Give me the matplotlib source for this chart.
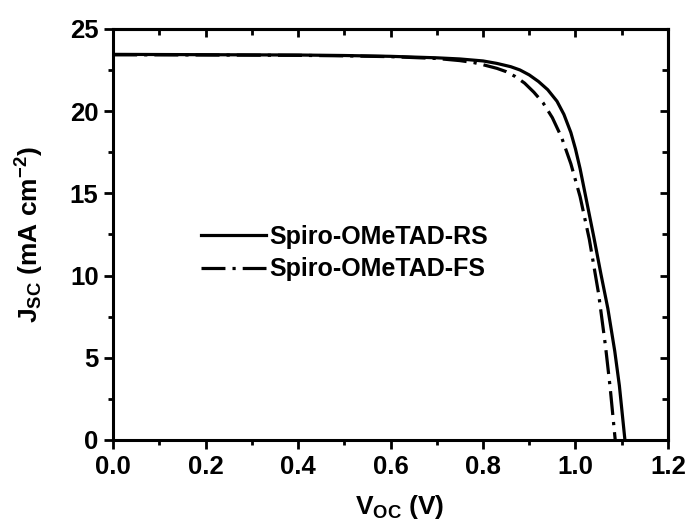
import numpy as np
import matplotlib
matplotlib.use("Agg")
import matplotlib.pyplot as plt
from matplotlib.ticker import MultipleLocator

plt.rcParams['font.family'] = ['Liberation Sans', 'DejaVu Sans']
plt.rcParams['font.weight'] = 'bold'
plt.rcParams['mathtext.fontset'] = 'custom'
plt.rcParams['mathtext.rm'] = 'Liberation Sans:bold'
plt.rcParams['mathtext.bf'] = 'Liberation Sans:bold'
plt.rcParams['mathtext.it'] = 'Liberation Sans:bold'
plt.rcParams['mathtext.default'] = 'bf'

# reverse scan
v_rs = [0.0, 0.1, 0.2, 0.3, 0.4, 0.5, 0.6, 0.7, 0.75, 0.8, 0.83, 0.86, 0.88,
        0.9, 0.92, 0.94, 0.96, 0.975, 0.99, 1.0, 1.01, 1.025, 1.04, 1.055,
        1.07, 1.085, 1.095, 1.107]
j_rs = [23.45, 23.44, 23.43, 23.42, 23.41, 23.38, 23.33, 23.24, 23.17, 23.05,
        22.9, 22.7, 22.5, 22.2, 21.8, 21.3, 20.6, 19.8, 18.7, 17.7, 16.5,
        14.4, 12.3, 10.1, 8.0, 5.4, 3.3, 0.0]

# forward scan
v_fs = [0.0, 0.1, 0.2, 0.3, 0.4, 0.5, 0.6, 0.7, 0.75, 0.78, 0.8, 0.83, 0.85,
        0.87, 0.89, 0.91, 0.93, 0.95, 0.97, 0.99, 1.01, 1.03, 1.05, 1.065,
        1.075, 1.086]
j_fs = [23.42, 23.42, 23.41, 23.4, 23.39, 23.36, 23.31, 23.2, 23.07, 22.95,
        22.82, 22.6, 22.4, 22.1, 21.7, 21.15, 20.5, 19.6, 18.4, 16.8, 14.8,
        12.2, 8.9, 5.7, 3.2, 0.0]

labels = ['Spiro-OMeTAD-RS', 'Spiro-OMeTAD-FS']

fig = plt.figure(figsize=(6.9, 5.25), dpi=100)
ax = fig.add_axes([0.164, 0.162, 0.804, 0.783])

ax.plot(v_rs, j_rs, color='black', lw=2.3, label=labels[0])
ax.plot(v_fs, j_fs, color='black', lw=2.3, linestyle=(0, (7.5, 2.2, 1, 2.2)),
        label=labels[1])

ax.set_xlim(0, 1.2)
ax.set_ylim(0, 25)
ax.xaxis.set_major_locator(MultipleLocator(0.2))
ax.xaxis.set_minor_locator(MultipleLocator(0.1))
ax.yaxis.set_major_locator(MultipleLocator(5))
ax.yaxis.set_minor_locator(MultipleLocator(2.5))

for s in ax.spines.values():
    s.set_linewidth(2.2)

ax.tick_params(which='both', direction='out', width=2, labelsize=18.5,
               top=False, right=False, pad=4)
ax.tick_params(which='major', length=6.5)
ax.tick_params(which='minor', length=3.6)

# inward ticks on top and right, like origin
ax_t = ax.secondary_xaxis('top')
ax_t.set_xticks(np.arange(0, 1.21, 0.2))
ax_t.xaxis.set_minor_locator(MultipleLocator(0.1))
ax_t.tick_params(which='both', direction='in', width=2, labeltop=False)
ax_t.tick_params(which='major', length=6)
ax_t.tick_params(which='minor', length=4)
ax_r = ax.secondary_yaxis('right')
ax_r.set_yticks(np.arange(0, 26, 5))
ax_r.yaxis.set_minor_locator(MultipleLocator(2.5))
ax_r.tick_params(which='both', direction='in', width=2, labelright=False)
ax_r.tick_params(which='major', length=6)
ax_r.tick_params(which='minor', length=4)
ax_t.spines['top'].set_linewidth(2.2)
ax_r.spines['right'].set_linewidth(2.2)

for lab in ax.get_xticklabels() + ax.get_yticklabels():
    lab.set_fontweight('bold')

ax.set_xlabel(r'V$_{\mathbf{OC}}$ (V)', fontsize=19, fontweight='bold')
ax.xaxis.set_label_coords(0.517, -0.128)
ax.set_ylabel(r'J$_{\mathbf{SC}}$ (mA cm$^{\mathbf{-2}}$)', fontsize=19,
              fontweight='bold', labelpad=17)

ax.legend(loc='center left', bbox_to_anchor=(0.117, 0.455), frameon=False,
          handlelength=2.6, handletextpad=0.15, labelspacing=0.35,
          prop={'weight': 'bold', 'size': 18})

fig.savefig('out.png', dpi=100)
